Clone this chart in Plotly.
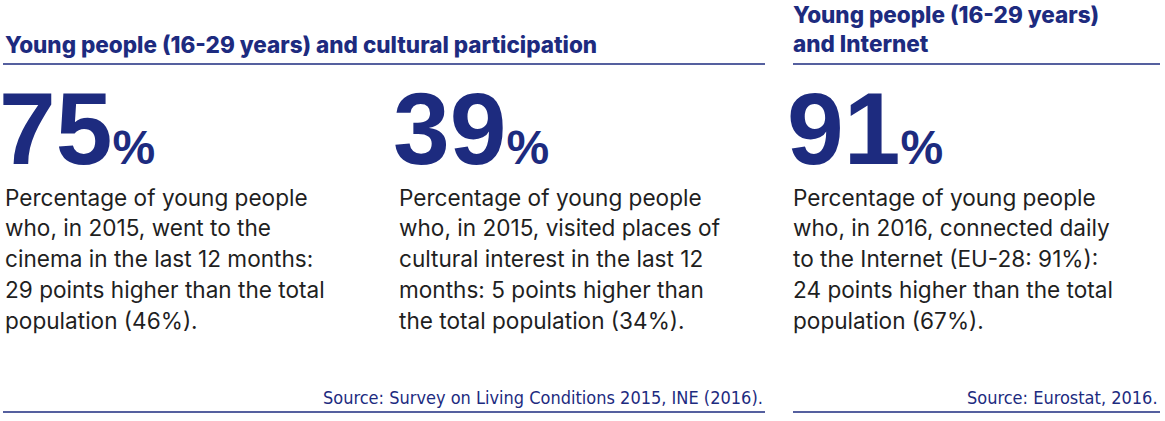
import plotly.graph_objects as go

W, H = 1165, 421
NAVY = '#1d2b7f'
TEXT = '#1f1f1f'

# content
headlines = ['Young people (16-29 years) and cultural participation',
             'Young people (16-29 years)<br>and Internet']
figures = ['75', '39', '91']
texts = [
    ['Percentage of young people', 'who, in 2015, went to the', 'cinema in the last 12 months:',
     '29 points higher than the total', 'population (46%).'],
    ['Percentage of young people', 'who, in 2015, visited places of', 'cultural interest in the last 12',
     'months: 5 points higher than', 'the total population (34%).'],
    ['Percentage of young people', 'who, in 2016, connected daily', 'to the Internet (EU-28: 91%):',
     '24 points higher than the total', 'population (67%).'],
]
sources = ['Source: Survey on Living Conditions 2015, INE (2016).', 'Source: Eurostat, 2016.']

# layout positions (px)
col_x = [3, 397, 791]
block_right = [765, 1160]
block_left = [3, 793]

fig = go.Figure()
fig.add_trace(go.Scatter(x=[0], y=[0], mode='markers', marker=dict(opacity=0), hoverinfo='skip', showlegend=False))

ann = []
ann.append(dict(x=3, y=44, text=headlines[0], xanchor='left', yanchor='middle', showarrow=False, align='left',
                font=dict(family='Inter', size=22.5, color=NAVY, weight=800)))
ann.append(dict(x=791, y=29, text=headlines[1], xanchor='left', yanchor='middle', showarrow=False, align='left',
                font=dict(family='Inter', size=22.5, color=NAVY, weight=800)))

for i, f in enumerate(figures):
    ann.append(dict(x=(col_x[i] - 6) / W, xref='paper', y=129, text=f + '<span style="font-size:48px">%</span>',
                    xanchor='left', yanchor='middle', showarrow=False,
                    font=dict(family='Liberation Sans', size=102, color=NAVY, weight='bold')))
    for j, line in enumerate(texts[i]):
        ann.append(dict(x=col_x[i], y=197 + j * 30.8, text=line, xanchor='left', yanchor='middle',
                        showarrow=False, font=dict(family='Inter', size=22.6, color=TEXT)))

for k, s in enumerate(sources):
    ann.append(dict(x=block_right[k], y=397, text=s, xanchor='right', yanchor='middle', showarrow=False,
                    font=dict(family='DejaVu Sans Condensed', size=18, color=NAVY)))

shapes = []
for k in range(2):
    for yy in (64, 412):
        shapes.append(dict(type='line', x0=block_left[k], x1=block_right[k], y0=yy, y1=yy,
                           line=dict(color=NAVY, width=1.3)))

fig.update_layout(
    width=W, height=H, margin=dict(l=0, r=0, t=0, b=0),
    paper_bgcolor='white', plot_bgcolor='white',
    xaxis=dict(range=[0, W], visible=False, fixedrange=True),
    yaxis=dict(range=[H, 0], visible=False, fixedrange=True),
    annotations=ann, shapes=shapes, showlegend=False,
)
fig.write_html('out.html', config={'displayModeBar': False},
               post_script="document.body.style.margin='0';document.body.style.overflow='hidden';")
